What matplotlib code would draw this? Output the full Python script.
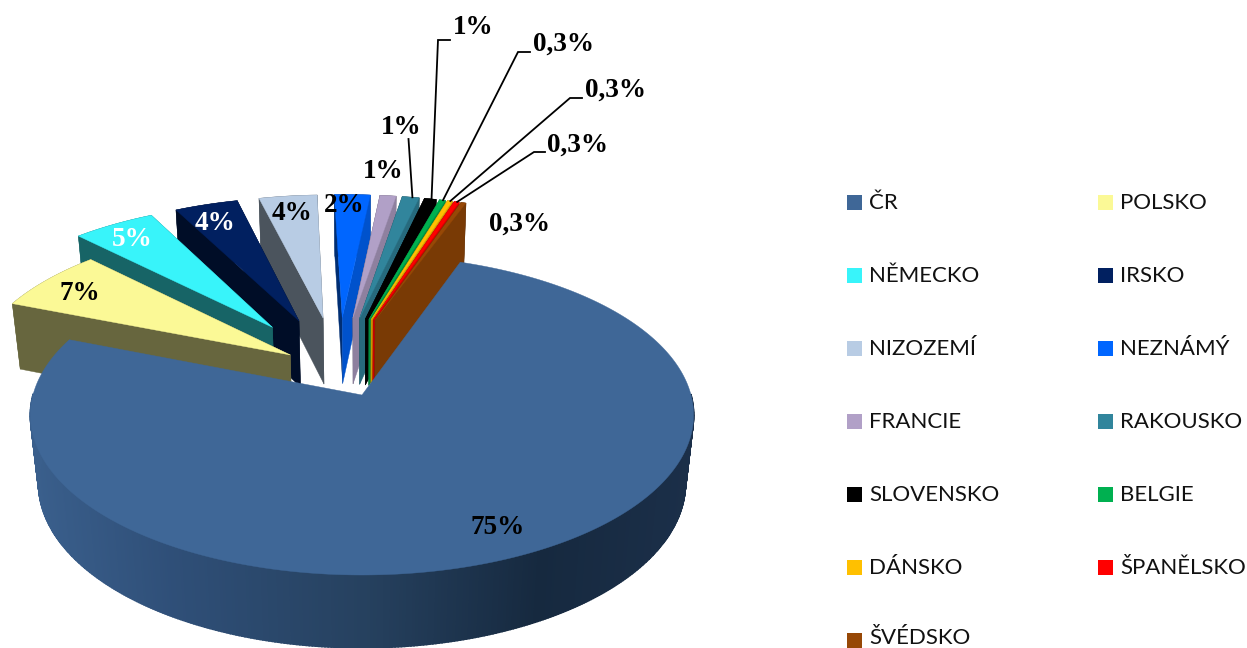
"""
3D exploded pie, drawn by hand: matplotlib has no perspective pie
"""
import numpy as np
import matplotlib
matplotlib.use("Agg")
import matplotlib.pyplot as plt
from matplotlib.colors import to_rgb
from matplotlib.patches import Polygon, Rectangle

countries = ["ČR", "POLSKO", "NĚMECKO", "IRSKO", "NIZOZEMÍ", "NEZNÁMÝ", "FRANCIE",
             "RAKOUSKO", "SLOVENSKO", "BELGIE", "DÁNSKO", "ŠPANĚLSKO", "ŠVÉDSKO"]
values = [75.6, 6.55, 4.8, 3.7, 3.4, 2.1, 0.95, 1.0, 0.7, 0.35, 0.3, 0.3, 0.3]
labels = ["75%", "7%", "5%", "4%", "4%", "2%", "1%", "1%", "1%", "0,3%", "0,3%", "0,3%", "0,3%"]
colors = ["#3f6797", "#fbf996", "#38f4fa", "#012060", "#b8cce4", "#0066ff", "#b1a0c7",
          "#31859c", "#000000", "#00b050", "#ffc000", "#ff0000", "#974806"]
explode = [0.18, 0.18, 0.36, 0.36, 0.36, 0.36, 0.36, 0.36, 0.36, 0.36, 0.36, 0.36, 0.36]

# layout in image pixels
START = 19.5            # first slice, degrees clockwise from top
CX, CY = 362, 395       # where the ČR tip lands
A, B, P = 329, 157.5, 0.125   # perspective of the top plane
H, Q = 70, 0.025        # depth, and how much the bottom plane shrinks
SMALL_R = 0.99          # the exploded slices come out a little smaller
label_xy = [(498, 528), (80, 294), (132, 239), (215, 223), (292, 213), (344, 206), (383, 171),
            (401, 127), (473, 27), (563, 44), (615, 90), (577, 145), (520, 224)]
label_col = ["black", "black", "white", "white"] + ["black"] * 9
# elbows of the leader lines, slice index -> points from the label side
leaders = {7: [(408.5, 139)], 8: [(450, 40), (438, 40)], 9: [(530, 52), (518, 52)],
           10: [(582, 98), (570, 98)], 11: [(545, 152), (534, 152)]}
wall_x = [31, 170, 365, 540, 695]
wall_col = ["#3a5f8c", "#2f4f78", "#26415f", "#16293f", "#1b2f49"]


def project(u, v, bottom=False):
    u, v = np.asarray(u, float), np.asarray(v, float)
    w = 1 + P * v + (Q if bottom else 0)
    return np.column_stack([CX + A * u / w, CY + (-B * v + (H if bottom else 0)) / w])


def shade(col, f):
    return tuple(c * f for c in to_rgb(col))


def face(ax, pts, col, lw=0.3):
    ax.add_patch(Polygon(pts, closed=True, facecolor=col, edgecolor=col, linewidth=lw))


def wedge(i):
    """tip and outer arc of one slice on the plane"""
    t0, t1 = edges[i], edges[i + 1]
    mid = np.radians((t0 + t1) / 2)
    tip = centre + explode[i] * np.array([np.sin(mid), np.cos(mid)])
    t = np.radians(np.linspace(t0, t1, max(int(t1 - t0) * 2, 6)))
    r = 1 if i == 0 else SMALL_R
    return tip, tip[0] + r * np.sin(t), tip[1] + r * np.cos(t)


def draw_small(ax, i):
    tip, u, v = wedge(i)
    top_arc, bot_arc = project(u, v), project(u, v, True)
    top_tip, bot_tip = project(tip[:1], tip[1:]), project(tip[:1], tip[1:], True)
    right_side = i >= 5
    left_f, right_f = (0.45, 0.8) if right_side else (0.41, 0.41)
    face(ax, np.vstack([top_arc, bot_arc[::-1]]), shade(colors[i], left_f))
    face(ax, np.vstack([top_arc[:1], top_tip, bot_tip, bot_arc[:1]]), shade(colors[i], left_f))
    face(ax, np.vstack([top_arc[-1:], top_tip, bot_tip, bot_arc[-1:]]), shade(colors[i], right_f))
    face(ax, np.vstack([top_tip, top_arc]), colors[i])


def draw_big(ax):
    tip, u, v = wedge(0)
    top_arc, bot_arc = project(u, v), project(u, v, True)
    rgb = np.array([to_rgb(c) for c in wall_col])
    for k in range(0, len(u) - 1):
        # back of the wall is hidden, and its thick edge would leak round the top
        if v[k] > 0 and v[k + 1] > 0:
            continue
        pts = [top_arc[k], top_arc[k + 1], bot_arc[k + 1], bot_arc[k]]
        x = (top_arc[k][0] + top_arc[k + 1][0]) / 2
        col = [np.interp(x, wall_x, rgb[:, c]) for c in range(3)]
        # thick edge, otherwise the seams between the quads show
        face(ax, pts, col, lw=1.2)
    face(ax, np.vstack([project(tip[:1], tip[1:]), top_arc]), colors[0])


vals = np.array(values)
edges = START + np.concatenate([[0], np.cumsum(vals / vals.sum() * 360)])
big_mid = np.radians((edges[0] + edges[1]) / 2)
centre = -explode[0] * np.array([np.sin(big_mid), np.cos(big_mid)])

fig = plt.figure(figsize=(12.47, 6.48), dpi=100)
ax = fig.add_axes([0, 0, 1, 1])
ax.set_xlim(0, 1247)
ax.set_ylim(648, 0)
ax.axis("off")

# back to front: the top of the pie first, the sides and ČR last
for i in [5, 4, 3, 2, 1, 6, 7, 8, 9, 10, 11, 12]:
    draw_small(ax, i)
draw_big(ax)

for i, pts in leaders.items():
    tip, u, v = wedge(i)
    end = project(u[len(u) // 2:len(u) // 2 + 1], v[len(v) // 2:len(v) // 2 + 1])[0]
    xs = [p[0] for p in pts] + [end[0]]
    ys = [p[1] for p in pts] + [end[1]]
    ax.plot(xs, ys, color="black", lw=1.3, solid_joinstyle="miter")

for txt, (x, y), col in zip(labels, label_xy, label_col):
    ax.text(x, y, txt, color=col, ha="center", va="center", fontsize=19.6,
            fontweight="bold", family="Liberation Serif")

# legend, two columns
for i, name in enumerate(countries):
    x = 847 if i % 2 == 0 else 1098
    y = 202 + 73 * (i // 2)
    ax.add_patch(Rectangle((x, y - 7.5), 15, 15, facecolor=colors[i], edgecolor="none"))
    # last row sits right on the bottom edge, keep it inside
    dy = -1.5 if i == 12 else 1
    ax.text(x + 22, y + dy, name, ha="left", va="center", fontsize=16,
            family="Lato", color="#111111")

fig.savefig("out.png", dpi=100)
